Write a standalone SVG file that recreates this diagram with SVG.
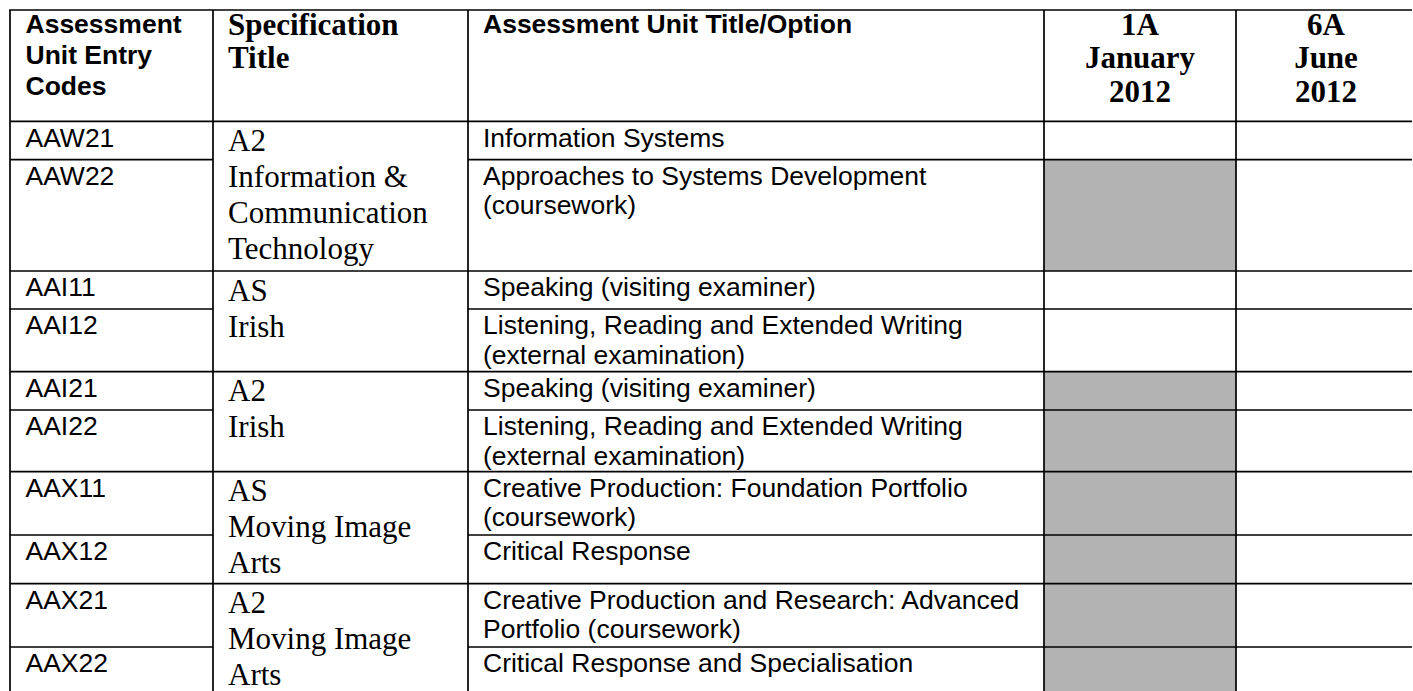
<svg xmlns="http://www.w3.org/2000/svg" width="1413" height="691" viewBox="0 0 1413 691">
<style>
.bg{fill:#ffffff}
.shade{fill:#b3b3b3}
.ln{stroke:#000000;stroke-width:1.7;fill:none}
.a{font-family:"Liberation Sans",Arial,sans-serif;font-size:26.5px;fill:#000}
.ab{font-family:"Liberation Sans",Arial,sans-serif;font-size:26.5px;font-weight:bold;fill:#000}
.t{font-family:"Liberation Serif","Times New Roman",serif;font-size:31px;fill:#000}
.tb{font-family:"Liberation Serif","Times New Roman",serif;font-size:31px;font-weight:bold;fill:#000}
.c{text-anchor:middle}
</style>
<rect class="bg" x="0" y="0" width="1413" height="691"/>
<g id="shading">
<rect class="shade" x="1044" y="159.7" width="192" height="111.3"/>
<rect class="shade" x="1044" y="371.7" width="192" height="319.3"/>
</g>
<g id="header">
<text class="ab" x="25.5" y="33">Assessment</text>
<text class="ab" x="25.5" y="64">Unit Entry</text>
<text class="ab" x="25.5" y="95">Codes</text>
<text class="tb" x="228" y="34.5">Specification</text>
<text class="tb" x="228" y="68">Title</text>
<text class="ab" x="483" y="33">Assessment Unit Title/Option</text>
<text class="tb c" x="1140" y="34.5">1A</text>
<text class="tb c" x="1140" y="68">January</text>
<text class="tb c" x="1140" y="101.5">2012</text>
<text class="tb c" x="1326" y="34.5">6A</text>
<text class="tb c" x="1326" y="68">June</text>
<text class="tb c" x="1326" y="101.5">2012</text>
</g>
<g id="spec-titles">
<text class="t" x="228" y="150.8">A2</text>
<text class="t" x="228" y="186.8">Information &amp;</text>
<text class="t" x="228" y="222.8">Communication</text>
<text class="t" x="228" y="258.8">Technology</text>
<text class="t" x="228" y="300.5">AS</text>
<text class="t" x="228" y="336.5">Irish</text>
<text class="t" x="228" y="401.2">A2</text>
<text class="t" x="228" y="437.2">Irish</text>
<text class="t" x="228" y="501.2">AS</text>
<text class="t" x="228" y="537.2">Moving Image</text>
<text class="t" x="228" y="573.2">Arts</text>
<text class="t" x="228" y="613.2">A2</text>
<text class="t" x="228" y="649.2">Moving Image</text>
<text class="t" x="228" y="685.2">Arts</text>
</g>
<g id="row-AAW21">
<text class="a" x="25.5" y="146.5">AAW21</text>
<text class="a" x="483" y="146.5">Information Systems</text>
</g>
<g id="row-AAW22">
<text class="a" x="25.5" y="184.7">AAW22</text>
<text class="a" x="483" y="184.7">Approaches to Systems Development</text>
<text class="a" x="483" y="214.2">(coursework)</text>
</g>
<g id="row-AAI11">
<text class="a" x="25.5" y="296">AAI11</text>
<text class="a" x="483" y="296">Speaking (visiting examiner)</text>
</g>
<g id="row-AAI12">
<text class="a" x="25.5" y="334">AAI12</text>
<text class="a" x="483" y="334">Listening, Reading and Extended Writing</text>
<text class="a" x="483" y="363.5">(external examination)</text>
</g>
<g id="row-AAI21">
<text class="a" x="25.5" y="396.7">AAI21</text>
<text class="a" x="483" y="396.7">Speaking (visiting examiner)</text>
</g>
<g id="row-AAI22">
<text class="a" x="25.5" y="435">AAI22</text>
<text class="a" x="483" y="435">Listening, Reading and Extended Writing</text>
<text class="a" x="483" y="464.5">(external examination)</text>
</g>
<g id="row-AAX11">
<text class="a" x="25.5" y="496.7">AAX11</text>
<text class="a" x="483" y="496.7">Creative Production: Foundation Portfolio</text>
<text class="a" x="483" y="526.2">(coursework)</text>
</g>
<g id="row-AAX12">
<text class="a" x="25.5" y="560">AAX12</text>
<text class="a" x="483" y="560">Critical Response</text>
</g>
<g id="row-AAX21">
<text class="a" x="25.5" y="608.7">AAX21</text>
<text class="a" x="483" y="608.7">Creative Production and Research: Advanced</text>
<text class="a" x="483" y="638.2">Portfolio (coursework)</text>
</g>
<g id="row-AAX22">
<text class="a" x="25.5" y="672">AAX22</text>
<text class="a" x="483" y="672">Critical Response and Specialisation</text>
</g>
<g id="grid">
<line class="ln" x1="9.2" y1="10" x2="1412" y2="10"/>
<line class="ln" x1="10" y1="10" x2="10" y2="691"/>
<line class="ln" x1="213" y1="10" x2="213" y2="691"/>
<line class="ln" x1="468" y1="10" x2="468" y2="691"/>
<line class="ln" x1="1044" y1="10" x2="1044" y2="691"/>
<line class="ln" x1="1236" y1="10" x2="1236" y2="691"/>
<line class="ln" x1="10" y1="121.3" x2="1412" y2="121.3"/>
<line class="ln" x1="10" y1="271" x2="1412" y2="271"/>
<line class="ln" x1="10" y1="371.7" x2="1412" y2="371.7"/>
<line class="ln" x1="10" y1="471.7" x2="1412" y2="471.7"/>
<line class="ln" x1="10" y1="583.7" x2="1412" y2="583.7"/>
<line class="ln" x1="10" y1="159.7" x2="213" y2="159.7"/>
<line class="ln" x1="468" y1="159.7" x2="1412" y2="159.7"/>
<line class="ln" x1="10" y1="309" x2="213" y2="309"/>
<line class="ln" x1="468" y1="309" x2="1412" y2="309"/>
<line class="ln" x1="10" y1="410" x2="213" y2="410"/>
<line class="ln" x1="468" y1="410" x2="1412" y2="410"/>
<line class="ln" x1="10" y1="535" x2="213" y2="535"/>
<line class="ln" x1="468" y1="535" x2="1412" y2="535"/>
<line class="ln" x1="10" y1="647" x2="213" y2="647"/>
<line class="ln" x1="468" y1="647" x2="1412" y2="647"/>
</g>
</svg>
